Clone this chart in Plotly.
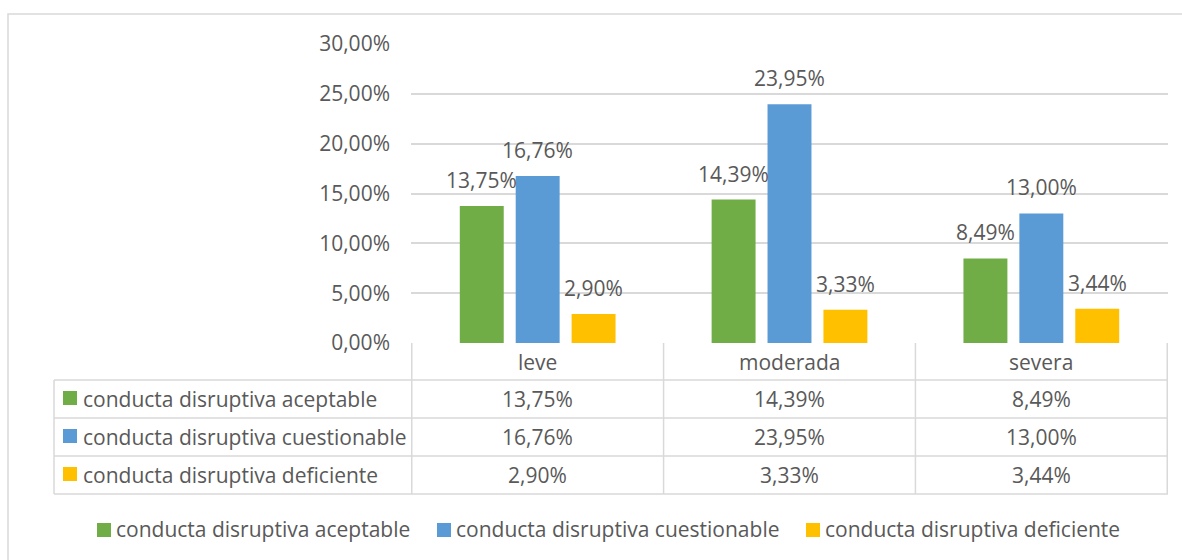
import plotly.graph_objects as go

categories = ["leve", "moderada", "severa"]
series_names = [
    "conducta disruptiva aceptable",
    "conducta disruptiva cuestionable",
    "conducta disruptiva deficiente",
]
aceptable = [0.1375, 0.1439, 0.0849]
cuestionable = [0.1676, 0.2395, 0.1300]
deficiente = [0.0290, 0.0333, 0.0344]
colors = ["#70AD47", "#5B9BD5", "#FFC000"]

series_values = [aceptable, cuestionable, deficiente]

FONT = "Open Sans"
TXT = "#595959"
GRID = "#D9D9D9"
FS = 21

W, H = 1182, 560
L, R, T, B = 411, 14, 44, 217
PW = W - L - R
PH = H - T - B

# table / legend geometry (pixels)
row_edges = [343, 380, 418, 456, 494]
table_left = 54
key_x = 63
label_x = 81
legend_y = 530
legend_keys = [97, 437, 806]
KEY = 14


def px_x(px):
    # pixel -> paper x
    return (px - L) / PW


def px_y(py):
    # pixel -> paper y
    return (H - B - py) / PH


def fmt(v):
    return f"{v * 100:.2f}%".replace(".", ",")


txtfont = dict(family=FONT, size=FS, color=TXT)

fig = go.Figure()
for name, vals, col in zip(series_names, series_values, colors):
    fig.add_trace(
        go.Bar(
            x=categories,
            y=vals,
            name=name,
            marker=dict(color=col, line=dict(width=0)),
            hoverinfo="skip",
        )
    )

# bar value labels
slot = 0.222
for k, vals in enumerate(series_values):
    for i, v in enumerate(vals):
        fig.add_annotation(
            x=i + (k - 1) * slot, y=v, xref="x", yref="y",
            text=fmt(v), showarrow=False, xanchor="center", yanchor="bottom", yshift=10,
            font=txtfont,
        )

# data table under the plot
for i in range(len(categories) + 1):
    fig.add_shape(type="line", xref="x", yref="paper",
                  x0=i - 0.5, x1=i - 0.5, y0=px_y(row_edges[0]), y1=px_y(row_edges[-1]),
                  line=dict(color=GRID, width=1.5))
fig.add_shape(type="line", xref="paper", yref="paper",
              x0=px_x(table_left), x1=px_x(table_left),
              y0=px_y(row_edges[1]), y1=px_y(row_edges[-1]),
              line=dict(color=GRID, width=1.5))
for e in row_edges[1:]:
    fig.add_shape(type="line", xref="paper", yref="paper",
                  x0=px_x(table_left), x1=1, y0=px_y(e), y1=px_y(e),
                  line=dict(color=GRID, width=1.5))

for i, cat in enumerate(categories):
    fig.add_annotation(x=i, y=px_y((row_edges[0] + row_edges[1]) / 2), xref="x", yref="paper",
                       text=cat, showarrow=False, xanchor="center", yanchor="middle", font=txtfont)

for k, (name, vals, col) in enumerate(zip(series_names, series_values, colors)):
    yc = (row_edges[k + 1] + row_edges[k + 2]) / 2
    fig.add_shape(type="rect", xref="paper", yref="paper",
                  x0=px_x(key_x), x1=px_x(key_x + KEY), y0=px_y(yc - 1 - KEY / 2), y1=px_y(yc - 1 + KEY / 2),
                  fillcolor=col, line=dict(width=0))
    fig.add_annotation(x=px_x(label_x), y=px_y(yc), xref="paper", yref="paper",
                       xanchor="left", yanchor="middle",
                       text=name, showarrow=False, font=txtfont)
    for i, v in enumerate(vals):
        fig.add_annotation(x=i, y=px_y(yc), xref="x", yref="paper",
                           xanchor="center", yanchor="middle",
                           text=fmt(v), showarrow=False, font=txtfont)

# legend below the table
for name, col, kx in zip(series_names, colors, legend_keys):
    fig.add_shape(type="rect", xref="paper", yref="paper",
                  x0=px_x(kx), x1=px_x(kx + KEY), y0=px_y(legend_y - KEY / 2), y1=px_y(legend_y + KEY / 2),
                  fillcolor=col, line=dict(width=0))
    fig.add_annotation(x=px_x(kx + KEY + 3), y=px_y(legend_y - 1), xref="paper", yref="paper",
                       xanchor="left", yanchor="middle",
                       text=name, showarrow=False, font=txtfont)

# outer chart border
fig.add_shape(type="rect", xref="paper", yref="paper",
              x0=px_x(8), x1=px_x(1200), y0=px_y(14), y1=px_y(600),
              line=dict(color=GRID, width=1.5), fillcolor="rgba(0,0,0,0)", layer="below")

fig.update_layout(
    width=W, height=H,
    margin=dict(l=L, r=R, t=T, b=B, autoexpand=False),
    paper_bgcolor="white", plot_bgcolor="white",
    separators=",.",
    barmode="group", bargap=0.334, bargroupgap=0.214,
    font=txtfont,
    xaxis=dict(showticklabels=False, showgrid=False, zeroline=False, showline=False),
    yaxis=dict(range=[0, 0.3], dtick=0.05, tickformat=".2%", showgrid=True, gridcolor=GRID,
               gridwidth=1.5, zeroline=False, showline=False, ticklabelstandoff=20,
               tickfont=txtfont),
    showlegend=False,
)

fig.write_html("out.html", config={"displayModeBar": False},
               post_script="document.body.style.margin='0';")
